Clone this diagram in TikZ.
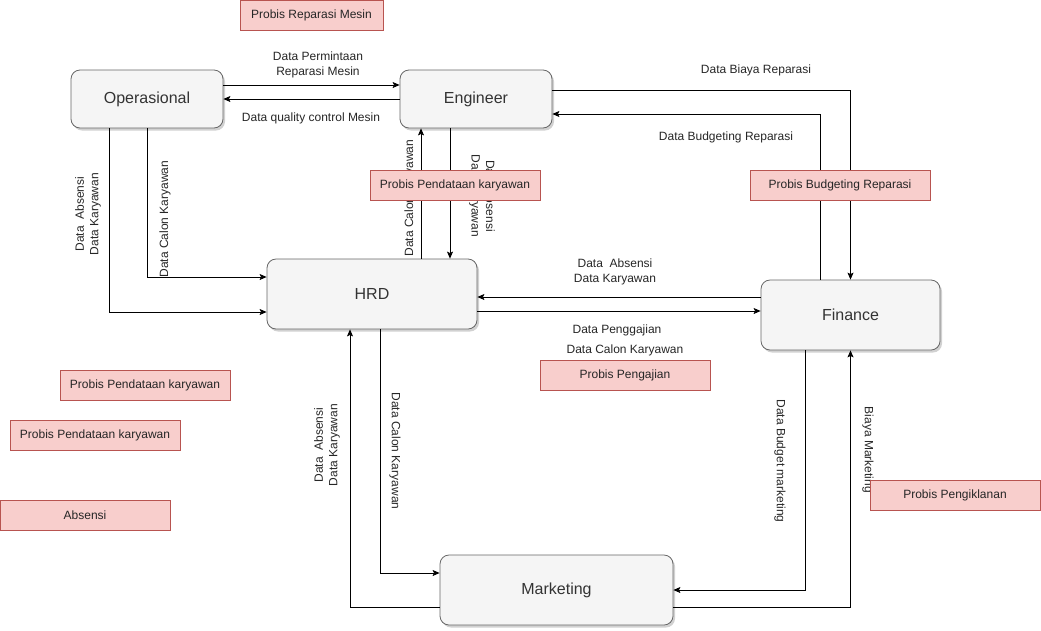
\documentclass[tikz,border=0pt]{standalone}
\usepackage{fontspec}
\setmainfont{Liberation Sans}
\usetikzlibrary{arrows.meta,shadows,calc}
\definecolor{procfill}{HTML}{F5F5F5}
\definecolor{procdraw}{HTML}{666666}
\definecolor{proctext}{HTML}{333333}
\definecolor{redfill}{HTML}{F8CECC}
\definecolor{reddraw}{HTML}{B85450}
\begin{document}
\begin{tikzpicture}[x=1pt,y=-1pt,
 proc/.style={draw=procdraw, fill=procfill, text=proctext, rounded corners=9pt, line width=0.8pt,
   font=\fontsize{16}{19}\selectfont, inner sep=0pt,
   drop shadow={shadow xshift=2pt, shadow yshift=-2.5pt, opacity=0.3, fill=black!60}},
 probis/.style={draw=reddraw, fill=redfill, line width=0.8pt, text=black!85,
   font=\fontsize{12}{14}\selectfont, inner sep=0pt, minimum width=170pt, minimum height=30pt},
 lbl/.style={font=\fontsize{12}{14.5}\selectfont, align=center, inner sep=0pt, text=black!85},
 flow/.style={-{Stealth[length=7pt,width=6pt,inset=1.5pt]}, line width=0.75pt, black}
]
\useasboundingbox (0,0) rectangle (1041,630);

% process nodes
\node[proc, minimum width=152pt, minimum height=58pt] (op) at (147,99) {Operasional};
\node[proc, minimum width=152pt, minimum height=58pt] (eng) at (476,99) {Engineer};
\node[proc, minimum width=210pt, minimum height=70pt] (hrd) at (372,294) {HRD};
\node[proc, minimum width=179pt, minimum height=70pt] (fin) at (850.5,315) {Finance};
\node[proc, minimum width=233pt, minimum height=70pt] (mkt) at (556.5,590) {Marketing};

% connectors
\draw[flow] ([yshift=14pt]op.east) -- ([yshift=14pt]eng.west);
\draw[flow] (eng.west) -- (op.east);
\draw[flow] ([yshift=9pt]eng.east) -| (fin.north);
\draw[flow] ([xshift=-30.5pt]fin.north) |- ([yshift=-15pt]eng.east);
\draw[flow] ([xshift=-38pt]op.south) |- ([yshift=-18pt]hrd.west);
\draw[flow] (op.south) |- ([yshift=17pt]hrd.west);
\draw[flow] ([xshift=49pt]hrd.north) -- ([xshift=49pt]hrd.north |- eng.south);
\draw[flow] ([xshift=-26pt]eng.south) -- ([xshift=-26pt]eng.south |- hrd.north);
\draw[flow] ([yshift=18pt]fin.west) -- ([yshift=18pt]fin.west -| hrd.east);
\draw[flow] ([yshift=-17pt]hrd.east) -- ([yshift=-17pt]hrd.east -| fin.west);
\draw[flow] ([yshift=-17pt]mkt.west) -| ([xshift=-22pt]hrd.south);
\draw[flow] ([xshift=8pt]hrd.south) |- ([yshift=17pt]mkt.west);
\draw[flow] ([xshift=-45pt]fin.south) |- (mkt.east);
\draw[flow] ([yshift=-17pt]mkt.east) -| (fin.south);

% connector labels
\node[lbl] (l1) at (318,65) {Data Permintaan\\Reparasi Mesin};
\node[lbl] (l2) at (311,118) {Data quality control Mesin};
\node[lbl] (l3) at (756,70) {Data Biaya Reparasi};
\node[lbl] (l4) at (726,137) {Data Budgeting Reparasi};
\node[lbl, rotate=90] (l5) at (88,214) {Data\ \ Absensi\\Data Karyawan};
\node[lbl, rotate=90] (l6) at (165,219) {Data Calon Karyawan};
\node[lbl, rotate=90] (l7) at (410,198) {Data Calon Karyawan};
\node[lbl, rotate=-90] (l8) at (482,196) {Data Absensi\\Data Karyawan};
\node[lbl] (l9) at (615,272) {Data\ \ Absensi\\Data Karyawan};
\node[lbl] (l10) at (617,330) {Data Penggajian};
\node[lbl] (l11) at (625,350) {Data Calon Karyawan};
\node[lbl, rotate=90] (l12) at (327,445) {Data\ \ Absensi\\Data Karyawan};
\node[lbl, rotate=-90] (l13) at (395,451) {Data Calon Karyawan};
\node[lbl, rotate=-90] (l14) at (780,461) {Data Budget marketing};
\node[lbl, rotate=-90] (l15) at (868,450) {Biaya Marketing};

% probis boxes
\node[probis, minimum width=143pt] (rm) at (311.5,15) {Probis Reparasi Mesin};
\node[probis] (pk1) at (455,185) {Probis Pendataan karyawan};
\node[probis, minimum width=180pt] (pb) at (840,185) {Probis Budgeting Reparasi};
\node[probis] (pg) at (625,375) {Probis Pengajian};
\node[probis] (pk2) at (145,385) {Probis Pendataan karyawan};
\node[probis] (pk3) at (95,435) {Probis Pendataan karyawan};
\node[probis] (ab) at (85,515) {Absensi};
\node[probis] (pi) at (955,495) {Probis Pengiklanan};
\end{tikzpicture}
\end{document}
